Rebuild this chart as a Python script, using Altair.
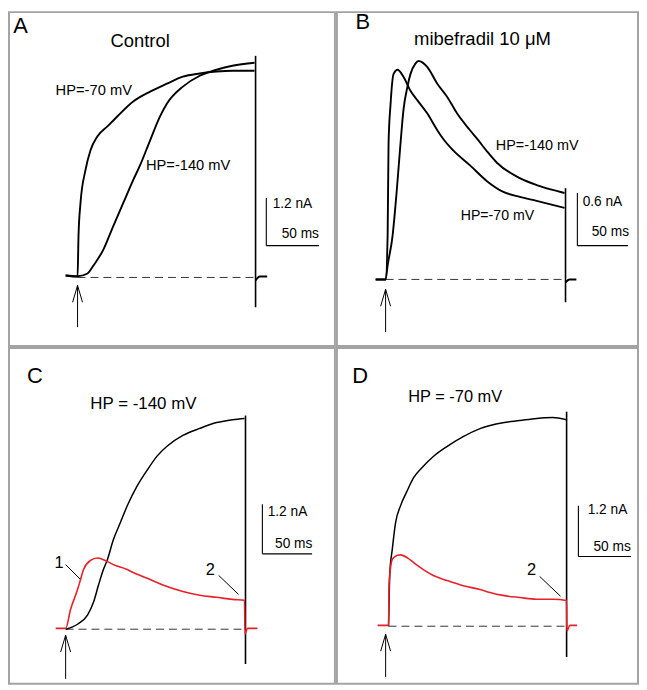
import altair as alt
import pandas as pd

FONT = "Liberation Sans"
INK = "#000000"
RED = "#e8202a"
BORDER = "#a3a3a3"
DASH_COLOR = "#333333"
SB_FONT_SIZE = 13.8

# ======================= DATA (time: ms from pulse onset, current: nA) =======================
# ---- Panel A : Control ----
A_HP70_T = [-11.3, 0, 0.9, 2.8, 7.5, 12.3, 18.9, 28.3, 37.7, 52.8, 68.9, 84.9, 100, 116, 132, 147, 168]
A_HP70_I = [0.05, 0.02, 1.05, 1.875, 2.7, 3.2, 3.55, 3.8, 4.05, 4.425, 4.675, 4.875, 5.05, 5.13, 5.18, 5.2, 5.2]
A_HP140_T = [-11.3, 0, 9.4, 15.1, 24.5, 34, 43.4, 52.8, 59.4, 68.9, 78.3, 84.9, 100, 116, 132, 147, 168]
A_HP140_I = [0.05, 0.03, 0.1, 0.3, 0.7, 1.3, 1.875, 2.45, 2.825, 3.45, 4.05, 4.375, 4.8, 5.075, 5.225, 5.325, 5.4]
A_TAIL_T = [169, 173, 180]
A_TAIL_I = [-0.075, 0.025, 0.025]
A_END = [169, 5.575, -0.75]            # t, top, bottom of capacitive transient
A_BASE = [0, 169]                      # dashed zero-current line
A_ARROW = [0, -0.2, -1.25, 4.7, -0.625]  # t, tip, bottom, half width, wing level
A_SCALE = [179.2, 2.0, 1.2, 50]        # t, top, nA, ms
A_TEXT = ["A", "Control", "HP=-70 mV", "HP=-140 mV"]
A_TEXT_T = [-54.2, 59.4, 15.4, 105]
A_TEXT_I = [6.33, 5.96, 4.7, 2.8]
A_TEXT_SIZE = [22, 18.5, 14.8, 14.8]
A_SB_TEXT = ["1.2 nA", "50 ms"]
A_SB_T = [185.2, 229.2]
A_SB_I = [1.85, 1.1]

# ---- Panel B : mibefradil 10 uM ----
B_HP70_T = [-9.8, 0, 2, 2.9, 4.9, 7.8, 11.8, 17.6, 24.5, 31.4, 41.2, 51, 56.9, 66.7, 83.3, 100, 115.7, 132.4, 149, 164.7, 176.5]
B_HP70_I = [0, 0, 0.5, 1.55, 2.0, 2.34, 2.39, 2.31, 2.15, 2.04, 1.89, 1.70, 1.60, 1.47, 1.30, 1.12, 1.0, 0.94, 0.895, 0.85, 0.815]
B_HP140_T = [-9.8, 0, 2, 6.9, 10.8, 14.7, 17.6, 21.6, 24.5, 29.4, 32.4, 41.2, 51, 60.8, 70.6, 83.3, 91.2, 100, 109.8, 132.4, 149, 164.7, 176.5]
B_HP140_I = [0, 0, 0.16, 0.5, 0.985, 1.55, 1.93, 2.2, 2.34, 2.46, 2.49, 2.42, 2.23, 2.08, 1.89, 1.70, 1.59, 1.46, 1.33, 1.155, 1.076, 1.02, 0.985]
B_TAIL_T = [177.5, 181.4, 188.2]
B_TAIL_I = [-0.034, 0.0, 0.0]
B_END = [177.5, 1.04, -0.26]
B_BASE = [0, 177.5]
B_ARROW = [0, -0.113, -0.6, 4.9, -0.306]
B_SCALE = [189.2, 0.985, 0.6, 50]
B_TEXT = ["B", "mibefradil 10 \u03bcM", "HP=-140 mV", "HP=-70 mV"]
B_TEXT_T = [-22.5, 95.6, 149.5, 110.3]
B_TEXT_I = [2.93, 2.74, 1.52, 0.725]
B_TEXT_SIZE = [22, 18.6, 14.5, 14.2]
B_SB_TEXT = ["0.6 nA", "50 ms"]
B_SB_T = [194.4, 240.2]
B_SB_I = [0.883, 0.544]

# ---- Panel C : HP = -140 mV (black control, red mibefradil) ----
C_BLACK_T = [0, 12, 22, 28, 33, 38, 42, 48, 55, 62, 72, 82, 92, 102, 118, 135, 152, 168, 180]
C_BLACK_I = [0, 0.12, 0.34, 0.65, 1.06, 1.44, 1.68, 2.16, 2.57, 2.98, 3.46, 3.84, 4.18, 4.42, 4.68, 4.85, 4.99, 5.06, 5.09]
C_RED_T = [-10, 0, 5, 12, 15, 18, 25, 32, 38, 48, 62, 68, 85, 102, 118, 135, 152, 168, 180, 180.5, 183, 193]
C_RED_I = [0.02, 0.02, 0.48, 0.96, 1.2, 1.44, 1.66, 1.72, 1.68, 1.56, 1.44, 1.37, 1.2, 1.03, 0.91, 0.82, 0.77, 0.72, 0.70, -0.12, 0.02, 0.02]
C_END = [181, 5.16, -0.84]
C_BASE = [0, 181]
C_ARROW = [0, -0.144, -1.2, 5, -0.55]
C_SCALE = [198, 3.02, 1.2, 50]
C_TEXT = ["C", "HP = -140 mV", "1", "2"]
C_TEXT_T = [-31, 78.3, -6.7, 145.5]
C_TEXT_I = [6.11, 5.45, 1.61, 1.44]
C_TEXT_SIZE = [22, 17, 16.5, 16.5]
C_LEADERS = [[0, 1.56, 15, 1.2], [154, 1.30, 174, 0.84]]
C_SB_TEXT = ["1.2 nA", "50 ms"]
C_SB_T = [203.3, 248.3]
C_SB_I = [2.83, 2.06]

# ---- Panel D : HP = -70 mV (black control, red mibefradil) ----
D_BLACK_T = [0, 1.2, 3.5, 6.6, 11.3, 17.9, 23.6, 33, 42.5, 55.7, 70.8, 86.8, 108.5, 124.5, 140.6, 155.7, 168.9]
D_BLACK_I = [0, 1.27, 1.82, 2.45, 2.85, 3.22, 3.51, 3.79, 4.02, 4.26, 4.49, 4.68, 4.82, 4.87, 4.92, 4.94, 4.89]
D_RED_T = [-10.4, 0, 0.5, 3.8, 8.5, 11.3, 17.9, 23.6, 33, 42.5, 55.7, 70.8, 86.8, 96.2, 108.5, 124.5, 140.6, 155.7, 168.9, 169.3, 172, 179]
D_RED_I = [0.02, 0.02, 1.03, 1.6, 1.68, 1.69, 1.62, 1.51, 1.34, 1.2, 1.08, 0.96, 0.87, 0.8, 0.73, 0.68, 0.64, 0.64, 0.61, -0.12, 0.02, 0.02]
D_END = [169, 5.08, -0.73]
D_BASE = [0, 169]
D_ARROW = [-2.8, -0.19, -1.2, 4.7, -0.59]
D_SCALE = [180.2, 2.85, 1.2, 50]
D_TEXT = ["D", "HP = -70 mV", "2"]
D_TEXT_T = [-26.9, 63.2, 135.8]
D_TEXT_I = [5.92, 5.42, 1.34]
D_TEXT_SIZE = [22, 16.5, 16.5]
D_LEADERS = [[143.4, 1.18, 163.2, 0.71]]
D_SB_TEXT = ["1.2 nA", "50 ms"]
D_SB_T = [189.0, 229.9]
D_SB_I = [2.74, 1.88]

# ======================= LAYOUT (page pixels) =======================
# ox/oy: pixel of (t=0, I=0); kx: px per ms; ky: px per nA; box: panel left, top, right, bottom
LAYOUT = {
    "A": dict(ox=77, oy=275, kx=1.06, ky=40.0, box=(8, 8, 336, 344)),
    "B": dict(ox=385, oy=277, kx=1.02, ky=88.3, box=(336, 8, 639, 344)),
    "C": dict(ox=65, oy=627, kx=1.0, ky=41.67, box=(8, 344, 336, 682)),
    "D": dict(ox=388, oy=624, kx=1.06, ky=42.5, box=(336, 344, 639, 682)),
}


def rule_rows(end, arrow, scale, leaders):
    rows = []
    t, top, bot = end
    rows.append(dict(t=t, I=top, t2=t, I2=bot, w=1.6))
    at, tip, abot, hw, wing = arrow
    rows.append(dict(t=at, I=tip, t2=at, I2=abot, w=1.0))
    rows.append(dict(t=at - hw, I=wing, t2=at, I2=tip, w=1.0))
    rows.append(dict(t=at + hw, I=wing, t2=at, I2=tip, w=1.0))
    st, stop, amp, ms = scale
    rows.append(dict(t=st, I=stop, t2=st, I2=stop - amp, w=1.1))
    rows.append(dict(t=st, I=stop - amp, t2=st + ms, I2=stop - amp, w=1.1))
    for a, b, c, d in leaders:
        rows.append(dict(t=a, I=b, t2=c, I2=d, w=1.0))
    return pd.DataFrame(rows)


def build_panel(key, black, red, rules_df, base, texts, sb):
    lay = LAYOUT[key]
    left, top, right, bottom = lay["box"]
    xdom = [(left - lay["ox"]) / lay["kx"], (right - lay["ox"]) / lay["kx"]]
    ydom = [(lay["oy"] - bottom) / lay["ky"], (lay["oy"] - top) / lay["ky"]]
    xs = alt.Scale(domain=xdom, nice=False, zero=False)
    ys = alt.Scale(domain=ydom, nice=False, zero=False)

    def X(f):
        return alt.X(f, type="quantitative", scale=xs, axis=None)

    def Y(f):
        return alt.Y(f, type="quantitative", scale=ys, axis=None)

    layers = []

    dashed = pd.DataFrame([dict(t=base[0], t2=base[1], I=0.0)])
    layers.append(
        alt.Chart(dashed).mark_rule(strokeDash=[8, 5], color=DASH_COLOR, strokeWidth=1).encode(
            x=X("t"), x2="t2:Q", y=Y("I")
        )
    )

    def line_layer(traces, color, width):
        rows = []
        for name, T, I in traces:
            for k, (tt, ii) in enumerate(zip(T, I)):
                rows.append(dict(trace=name, seq=k, t=tt, I=ii))
        df = pd.DataFrame(rows)
        return alt.Chart(df).mark_line(
            interpolate="monotone", color=color, strokeWidth=width, strokeJoin="round"
        ).encode(x=X("t"), y=Y("I"), detail="trace:N", order="seq:Q")

    layers.append(line_layer(black[0], INK, black[1]))
    layers.append(
        alt.Chart(rules_df).mark_rule(color=INK).encode(
            x=X("t"), y=Y("I"), x2="t2:Q", y2="I2:Q",
            strokeWidth=alt.StrokeWidth("w:Q", scale=None, legend=None),
        )
    )
    if red:
        layers.append(line_layer(red[0], RED, red[1]))

    names, tt, ii, sizes = texts
    tdf = pd.DataFrame(dict(text=names, t=tt, I=ii, size=sizes))
    layers.append(
        alt.Chart(tdf).mark_text(align="center", baseline="middle", font=FONT, color=INK).encode(
            x=X("t"), y=Y("I"), text="text:N",
            size=alt.Size("size:Q", scale=None, legend=None),
        )
    )
    sbn, sbt, sbi = sb
    sdf = pd.DataFrame(dict(text=sbn, t=sbt, I=sbi, al=["left", "right"]))
    for al in ["left", "right"]:
        layers.append(
            alt.Chart(sdf[sdf["al"] == al]).mark_text(
                align=al, baseline="middle", font=FONT, fontSize=SB_FONT_SIZE, color=INK
            ).encode(x=X("t"), y=Y("I"), text="text:N")
        )

    return alt.layer(*layers).properties(width=right - left, height=bottom - top)


panel_a = build_panel(
    "A",
    ([("hp70", A_HP70_T, A_HP70_I), ("hp140", A_HP140_T, A_HP140_I), ("tail", A_TAIL_T, A_TAIL_I)], 1.9),
    None,
    rule_rows(A_END, A_ARROW, A_SCALE, []),
    A_BASE,
    (A_TEXT, A_TEXT_T, A_TEXT_I, A_TEXT_SIZE),
    (A_SB_TEXT, A_SB_T, A_SB_I),
)
panel_b = build_panel(
    "B",
    ([("hp70", B_HP70_T, B_HP70_I), ("hp140", B_HP140_T, B_HP140_I), ("tail", B_TAIL_T, B_TAIL_I)], 1.9),
    None,
    rule_rows(B_END, B_ARROW, B_SCALE, []),
    B_BASE,
    (B_TEXT, B_TEXT_T, B_TEXT_I, B_TEXT_SIZE),
    (B_SB_TEXT, B_SB_T, B_SB_I),
)
panel_c = build_panel(
    "C",
    ([("ctrl", C_BLACK_T, C_BLACK_I)], 1.5),
    ([("mib", C_RED_T, C_RED_I)], 1.6),
    rule_rows(C_END, C_ARROW, C_SCALE, C_LEADERS),
    C_BASE,
    (C_TEXT, C_TEXT_T, C_TEXT_I, C_TEXT_SIZE),
    (C_SB_TEXT, C_SB_T, C_SB_I),
)
panel_d = build_panel(
    "D",
    ([("ctrl", D_BLACK_T, D_BLACK_I)], 1.5),
    ([("mib", D_RED_T, D_RED_I)], 1.6),
    rule_rows(D_END, D_ARROW, D_SCALE, D_LEADERS),
    D_BASE,
    (D_TEXT, D_TEXT_T, D_TEXT_I, D_TEXT_SIZE),
    (D_SB_TEXT, D_SB_T, D_SB_I),
)

chart = (
    alt.vconcat(
        alt.hconcat(panel_a, panel_b, spacing=0),
        alt.hconcat(panel_c, panel_d, spacing=0),
        spacing=0,
    )
    .properties(padding=0, background="white")
    .configure_view(stroke=BORDER, strokeWidth=2)
)

chart.save("out.html", embed_options={"renderer": "svg", "actions": False})
